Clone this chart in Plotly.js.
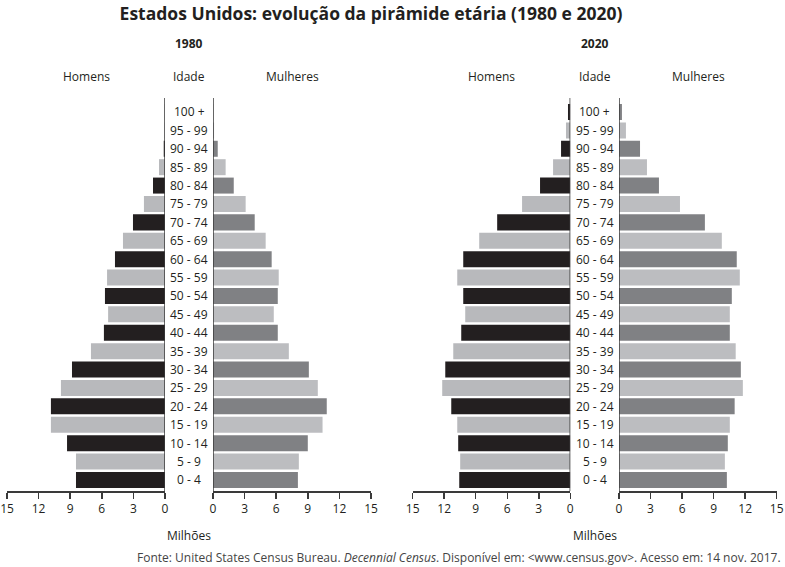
<!DOCTYPE html>
<html>
<head>
<meta charset="utf-8">
<script src="https://cdn.plot.ly/plotly-3.0.1.min.js"></script>
<style>html,body{margin:0;padding:0;background:#fff;}#chart{width:785px;height:567px;}</style>
</head>
<body>
<div id="chart"></div>
<script>
// Age groups (bottom to top)
var ageGroups = ["0 - 4","5 - 9","10 - 14","15 - 19","20 - 24","25 - 29","30 - 34","35 - 39","40 - 44","45 - 49","50 - 54","55 - 59","60 - 64","65 - 69","70 - 74","75 - 79","80 - 84","85 - 89","90 - 94","95 - 99","100 +"];

// Population in millions
var men1980   = [8.45, 8.45, 9.3, 10.83, 10.83, 9.88, 8.83, 7.03, 5.8, 5.4, 5.7, 5.5, 4.75, 3.99, 3.04, 2.0, 1.14, 0.57, 0.12, 0.03, 0.01];
var women1980 = [8.06, 8.15, 9.0, 10.4, 10.8, 9.95, 9.1, 7.2, 6.15, 5.77, 6.15, 6.24, 5.57, 5.0, 3.96, 3.1, 1.97, 1.2, 0.45, 0.1, 0.02];
var men2020   = [10.57, 10.48, 10.67, 10.76, 11.33, 12.19, 11.9, 11.14, 10.38, 10.0, 10.19, 10.76, 10.19, 8.67, 6.96, 4.59, 2.88, 1.64, 0.88, 0.41, 0.22];
var women2020 = [10.26, 10.07, 10.35, 10.54, 11.0, 11.78, 11.59, 11.1, 10.54, 10.54, 10.73, 11.49, 11.2, 9.78, 8.17, 5.8, 3.8, 2.66, 2.0, 0.66, 0.28];

var xTicks = [0, 3, 6, 9, 12, 15];
var years = ["1980", "2020"];

var W = 785, H = 567;
function px(x){ return x / W; }
function py(y){ return 1 - y / H; }

var menColors = ageGroups.map(function(_, i){ return i % 2 === 0 ? '#231f20' : '#b8b9bc'; });
var womenColors = ageGroups.map(function(_, i){ return i % 2 === 0 ? '#808184' : '#bcbdc0'; });

function barTrace(vals, colors, xa){
  return {
    type: 'bar', orientation: 'h', y: ageGroups, x: vals,
    xaxis: xa, yaxis: 'y',
    marker: {color: colors, line: {width: 0}},
    hoverinfo: 'x+y', showlegend: false
  };
}

var data = [
  barTrace(men1980, menColors, 'x'),
  barTrace(women1980, womenColors, 'x2'),
  barTrace(men2020, menColors, 'x3'),
  barTrace(women2020, womenColors, 'x4')
];

var FONT = '"Open Sans", "Noto Sans", sans-serif';
var axisColor = '#3a3a3a';

function xAxis(domain, reversed){
  return {
    domain: domain, anchor: 'y',
    range: reversed ? [15, 0] : [0, 15],
    tickvals: xTicks, ticktext: xTicks.map(String),
    showline: true, linecolor: axisColor, linewidth: 1.5,
    ticks: 'outside', ticklen: 6, tickwidth: 1.5, tickcolor: axisColor,
    showgrid: false, zeroline: false,
    tickfont: {family: FONT, size: 12, color: '#231f20'},
    fixedrange: true
  };
}

var yBottom = 491, yTop = 98;

var layout = {
  width: W, height: H,
  margin: {l: 0, r: 0, t: 0, b: 0},
  paper_bgcolor: '#fff', plot_bgcolor: 'rgba(0,0,0,0)',
  bargap: 0.13,
  font: {family: FONT, color: '#231f20'},
  title: {
    text: 'Estados Unidos: evolução da pirâmide etária (1980 e 2020)',
    x: px(371), xanchor: 'center', xref: 'paper',
    y: py(14), yanchor: 'middle', yref: 'paper',
    font: {family: FONT, size: 17.5, weight: 700, color: '#231f20'}
  },
  xaxis: xAxis([px(7), px(165)], true),
  xaxis2: xAxis([px(213), px(371)], false),
  xaxis3: xAxis([px(412.7), px(570.3)], true),
  xaxis4: xAxis([px(619), px(776.7)], false),
  yaxis: {
    type: 'category', categoryarray: ageGroups, categoryorder: 'array',
    domain: [py(yBottom), py(yTop)], range: [-0.6, 20.76],
    visible: false, showgrid: false, zeroline: false, fixedrange: true
  },
  shapes: [],
  annotations: []
};

['x', 'x2', 'x3', 'x4'].forEach(function(xa){
  layout.shapes.push({
    type: 'line', xref: xa, x0: 0, x1: 0,
    yref: 'paper', y0: py(yBottom), y1: py(yTop),
    line: {color: axisColor, width: 1.5}
  });
});

var centers = [189, 594.5];
var menCenters = [86, 491];
var womenCenters = [292, 698];

function ann(text, x, y, size, extra){
  var a = {
    text: text, x: x, y: y, xref: 'paper', yref: 'paper',
    xanchor: 'center', yanchor: 'middle', showarrow: false,
    font: {family: FONT, size: size, color: '#231f20'}
  };
  for (var k in extra) a[k] = extra[k];
  return a;
}

years.forEach(function(yr, k){
  layout.annotations.push(ann('<b>' + yr + '</b>', px(centers[k]), py(43), 12));
  layout.annotations.push(ann('Homens', px(menCenters[k]), py(77), 12));
  layout.annotations.push(ann('Idade', px(centers[k]), py(77), 12));
  layout.annotations.push(ann('Mulheres', px(womenCenters[k]), py(77), 12));
  layout.annotations.push(ann('Milhões', px(centers[k]), py(535), 12));
  ageGroups.forEach(function(g){
    layout.annotations.push({
      text: g, x: px(centers[k]), y: g, xref: 'paper', yref: 'y',
      xanchor: 'center', yanchor: 'middle', showarrow: false,
      font: {family: FONT, size: 12, color: '#231f20'}
    });
  });
});

layout.annotations.push(ann('Fonte: United States Census Bureau. <i>Decennial Census</i>. Disponível em: &lt;www.census.gov&gt;. Acesso em: 14 nov. 2017.',
  px(783), py(557), 12, {xanchor: 'right', font: {family: FONT, size: 12, color: '#444'}}));

Plotly.newPlot('chart', data, layout, {displayModeBar: false, staticPlot: true});
</script>
</body>
</html>
